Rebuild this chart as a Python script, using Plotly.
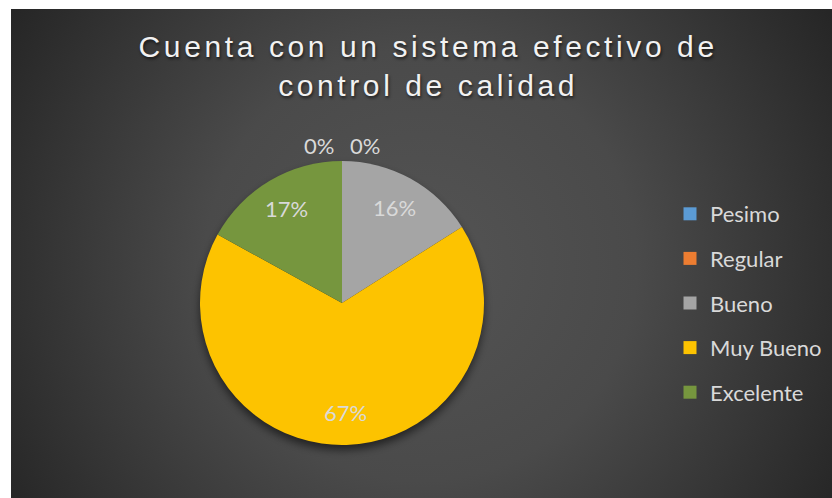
import base64
import math
import plotly.graph_objects as go

# Survey answers for the quality-control question
categories = ["Pesimo", "Regular", "Bueno", "Muy Bueno", "Excelente"]
values = [0, 0, 16, 67, 17]
colors = ["#5b9bd5", "#ed7d31", "#a5a5a5", "#fdc300", "#76963e"]
title_lines = ["Cuenta con un sistema efectivo de", "control de calidad"]

W, H = 832, 498
# chart frame (pixels) inside the white page
FX0, FY0 = 11, 9
# pie placement (pixels)
PCX, PCY, PR = 342, 303, 142
LABEL_R = 0.77  # data labels sit at this fraction of the radius

total = sum(values)
pct_text = [f"{round(100 * v / total)}%" for v in values]

# background: radial grey gradient plus soft pie shadow
fw, fh = W - FX0, H - FY0
svg = f"""<svg xmlns='http://www.w3.org/2000/svg' width='{fw}' height='{fh}' viewBox='0 0 {fw} {fh}'>
<defs>
<radialGradient id='g' cx='{(421 - FX0)}' cy='{(265 - FY0)}' r='480' gradientUnits='userSpaceOnUse'>
<stop offset='0' stop-color='#545454'/>
<stop offset='0.45' stop-color='#4a4a4a'/>
<stop offset='1' stop-color='#262626'/>
</radialGradient>
<filter id='b' x='-20%' y='-20%' width='140%' height='140%'><feGaussianBlur stdDeviation='4'/></filter>
</defs>
<rect width='{fw}' height='{fh}' fill='url(#g)'/>
<circle cx='{PCX - FX0}' cy='{PCY - FY0 + 5}' r='{PR}' fill='#000' fill-opacity='0.55' filter='url(#b)'/>
</svg>"""
bg_uri = "data:image/svg+xml;base64," + base64.b64encode(svg.encode()).decode()

fig = go.Figure()
fig.add_trace(go.Pie(
    labels=categories,
    values=values,
    textinfo="none",
    sort=False,
    direction="clockwise",
    rotation=0,
    marker=dict(colors=colors, line=dict(width=0)),
    showlegend=False,
    hoverinfo="label+percent",
    domain=dict(x=[(PCX - PR) / W, (PCX + PR) / W],
                y=[(H - PCY - PR) / H, (H - PCY + PR) / H]),
))

# legend entries, one group each so they can be spaced apart
for i, (name, col) in enumerate(zip(categories, colors)):
    fig.add_trace(go.Scatter(
        x=[None], y=[None], mode="markers", name=name,
        legendgroup=f"g{i}",
        marker=dict(symbol="square", size=13, color=col, line=dict(width=0)),
        hoverinfo="skip",
    ))

# percentage labels: placed at each slice's mid-angle (clockwise from 12 o'clock);
# empty slices get their label just outside the top of the pie
label_font = dict(family="Lato", size=22, color="#d9d9d9")
cum = 0.0
zero_seen = 0
for v, txt in zip(values, pct_text):
    if v > 0:
        mid = 2 * math.pi * (cum + v / 2) / total
        px = PCX + LABEL_R * PR * math.sin(mid)
        py = PCY - LABEL_R * PR * math.cos(mid)
    else:
        px = PCX + (-23 if zero_seen == 0 else 23)
        py = PCY - PR - 16
        zero_seen += 1
    cum += v
    fig.add_annotation(
        x=px / W, y=1 - py / H, xref="paper", yref="paper", showarrow=False,
        text=txt, font=label_font, xanchor="center", yanchor="middle",
    )

fig.add_annotation(
    x=428 / W, y=(H - 66) / H, xref="paper", yref="paper", showarrow=False,
    text="<br>".join(title_lines),
    font=dict(family="Liberation Sans", size=30, color="#f2f2f2",
              shadow="1px 2px 3px rgba(0,0,0,0.6)"),
    xanchor="center", yanchor="middle", align="center",
)

fig.update_layout(
    width=W, height=H,
    margin=dict(l=0, r=0, t=0, b=0),
    paper_bgcolor="white",
    plot_bgcolor="rgba(0,0,0,0)",
    xaxis=dict(visible=False, domain=[0.9, 0.91]),
    yaxis=dict(visible=False, domain=[0.9, 0.91]),
    images=[dict(source=bg_uri, xref="paper", yref="paper",
                 x=FX0 / W, y=1 - FY0 / H, sizex=fw / W, sizey=fh / H,
                 xanchor="left", yanchor="top", sizing="stretch", layer="below")],
    showlegend=True,
    legend=dict(
        x=670 / W, y=1 - 193 / H, xanchor="left", yanchor="top",
        bgcolor="rgba(0,0,0,0)", borderwidth=0,
        font=dict(family="Lato", size=22, color="#d9d9d9"),
        tracegroupgap=13, traceorder="grouped",
    ),
)

fig.write_html(
    "out.html",
    config={"displayModeBar": False},
    post_script="document.querySelectorAll('.annotation-text').forEach(function(t){"
                "if(t.textContent.indexOf('Cuenta')>=0){t.style.letterSpacing='3.6px';}});",
)
